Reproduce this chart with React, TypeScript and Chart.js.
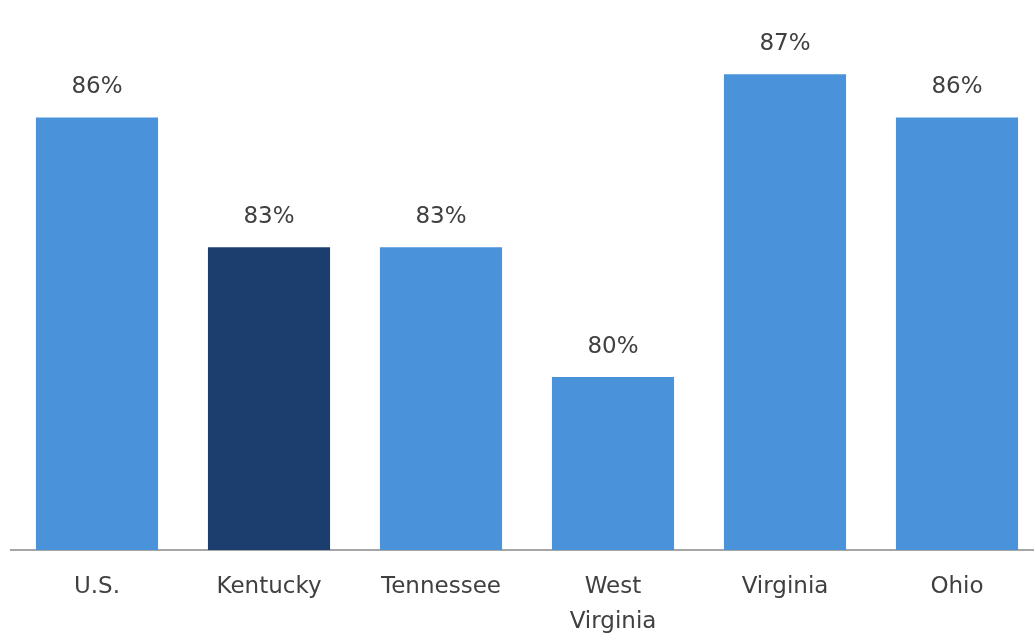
import React, { useEffect, useRef } from "react";
import { Chart, registerables } from "chart.js";

Chart.register(...registerables);

const categories: (string | string[])[] = ["U.S.", "Kentucky", "Tennessee", ["West", "Virginia"], "Virginia", "Ohio"];
const values: number[] = [86, 83, 83, 80, 87, 86];
const barColors: string[] = ["#4a93db", "#1c3e6f", "#4a93db", "#4a93db", "#4a93db", "#4a93db"];
const yMin = 76;
const yMax = 88;

const FONT = "'DejaVu Sans', sans-serif";

const valueLabels = {
  id: "valueLabels",
  afterDatasetsDraw(chart: any) {
    const ctx = chart.ctx;
    const meta = chart.getDatasetMeta(0);
    ctx.save();
    ctx.font = `23px ${FONT}`;
    ctx.fillStyle = "#404040";
    ctx.textAlign = "center";
    ctx.textBaseline = "middle";
    meta.data.forEach((bar: any, i: number) => {
      ctx.fillText(`${values[i]}%`, bar.x, bar.y - 30);
    });
    ctx.restore();
  },
};

export default function App() {
  const ref = useRef<HTMLCanvasElement | null>(null);
  useEffect(() => {
    document.body.style.margin = "0";
    document.body.style.overflow = "hidden";
    const chart = new Chart(ref.current!, {
      type: "bar",
      data: {
        labels: categories,
        datasets: [
          {
            data: values,
            backgroundColor: barColors,
            categoryPercentage: 1,
            barPercentage: 0.71,
          },
        ],
      },
      options: {
        animation: false,
        responsive: false,
        maintainAspectRatio: false,
        layout: { padding: { top: 31, left: 11, right: 2, bottom: 0 } },
        plugins: { legend: { display: false }, tooltip: { enabled: false } },
        scales: {
          y: { display: false, min: yMin, max: yMax },
          x: {
            grid: { display: false },
            border: { display: true, color: "#a6a6a6", width: 2 },
            ticks: {
              color: "#404040",
              font: { family: FONT, size: 23, lineHeight: 1.5 },
              padding: 12,
              maxRotation: 0,
              autoSkip: false,
            },
            afterFit: (scale: any) => {
              scale.height = 87;
            },
          },
        },
      },
      plugins: [valueLabels],
    });
    return () => chart.destroy();
  }, []);
  return (
    <div style={{ position: "absolute", left: 0, top: 0, width: 1034, height: 637, overflow: "hidden", background: "#fff" }}>
      <canvas ref={ref} width={1045} height={637} style={{ width: 1045, height: 637, display: "block" }} />
    </div>
  );
}
